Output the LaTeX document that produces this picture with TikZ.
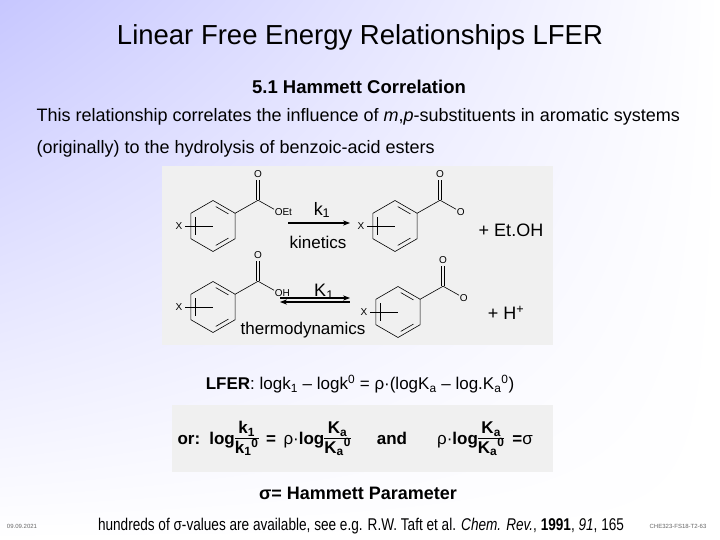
\documentclass[tikz,border=0pt]{standalone}
\usepackage{fontspec}
\setmainfont{Liberation Sans}
\newfontfamily\narrowf[FakeStretch=0.8]{Liberation Sans}
\usetikzlibrary{arrows.meta,calc,shadings}
\newcommand\fr[2]{\begin{tabular}{@{}c@{}}#1\rule[-3pt]{0pt}{3pt}\\[-1pt]\hline\rule{0pt}{15pt}#2\end{tabular}}
\tikzset{bond/.style={line width=0.6pt},
 atom/.style={font=\fontsize{10}{10}\selectfont,inner sep=0.5pt},
 pics/benz/.style={code={
  \draw[bond] (90:25.5)--(30:25.5)--(-30:25.5)--(-90:25.5)--(-150:25.5)--(150:25.5)--cycle;
  \draw[bond] ($(-150:25.5)!0.15!(150:25.5)+(4,0)$)--($(-150:25.5)!0.85!(150:25.5)+(4,0)$);
  \draw[bond] ($(-90:21)!0.15!(-30:21)$)--($(-90:21)!0.85!(-30:21)$);
  \draw[bond] ($(90:21)!0.15!(30:21)$)--($(90:21)!0.85!(30:21)$);
  \draw[bond] (-28,0)--(0,0);
  \node[atom] at (-34,0) {X};
  \draw[bond] (-30:25.5)--++(23,-13) coordinate(-c);
  \draw[bond] ($(-c)+(-1.5,0)$)--++(0,-20); \draw[bond] ($(-c)+(1.5,0)$)--++(0,-20);
  \node[atom] at ($(-c)+(0,-26)$) {O};
  \draw[bond] (-c)--++(16,9);
  \node[atom,anchor=west] at ($(-c)+(16,12)$) {#1};
 }}}
\begin{document}
\begin{tikzpicture}[x=1pt,y=-1pt]
\useasboundingbox (0,0) rectangle (720,540);
\shade[upper left=blue!22, upper right=white, lower left=white, lower right=white] (0,0) rectangle (720,540);
\node (title) at (360,37) {\fontsize{27.5}{28}\selectfont Linear Free Energy Relationships LFER};
\node (sub) at (359,87) {\fontsize{18.5}{19}\selectfont\bfseries 5.1 Hammett Correlation};
\node[anchor=west] (l1) at (33,117) {\fontsize{18}{18}\selectfont This relationship correlates the influence of \textit{m},\textit{p}-substituents in aromatic systems};
\node[anchor=west] (l2) at (33,149) {\fontsize{18}{18}\selectfont (originally) to the hydrolysis of benzoic-acid esters};
\fill[black!6] (162,166) rectangle (553,345);
\pic (r1) at (213,226) {benz=OEt};
\pic (r2) at (395,226) {benz=O};
\pic (r3) at (213,307) {benz=OH};
\pic (r4) at (398,312) {benz=O};
\coordinate (a1) at (288,223); \coordinate (a2) at (350,223);
\draw[line width=1.3pt,-{Stealth[length=7pt]}] (a1)--(a2);
\node (k1) at (322,210) {\fontsize{18}{18}\selectfont k\textsubscript{1}};
\node (kin) at (318,242) {\fontsize{17}{17}\selectfont kinetics};
\coordinate (b1) at (280,298); \coordinate (b2) at (350,298);
\coordinate (b3) at (280,302); \coordinate (b4) at (350,302);
\draw[line width=1.2pt,-{Stealth[length=7pt]}] (b1)--(b2);
\draw[line width=1.2pt,{Stealth[length=7pt]}-] (b3)--(b4);
\node (K1) at (324,292) {\fontsize{18}{18}\selectfont K\textsubscript{1}};
\node (thermo) at (303,330) {\fontsize{17}{17}\selectfont thermodynamics};
\node (etoh) at (511,230) {\fontsize{18}{18}\selectfont + Et.OH};
\node (hp) at (506,313) {\fontsize{18}{18}\selectfont + H\textsuperscript{+}};
\node (lfer) at (360,384) {\fontsize{17}{17}\selectfont\textbf{LFER}: logk\textsubscript{1} – logk\textsuperscript{0} = ρ·(logK\textsubscript{a} – log.K\textsubscript{a}\textsuperscript{0})};
\fill[black!6] (172,405) rectangle (553,472);
\node[anchor=west] (eq) at (174,440) {\fontsize{17}{17}\selectfont\bfseries or:\, log\fr{k\textsubscript{1}}{k\textsubscript{1}\textsuperscript{0}}\, =\, \mdseries ρ·\bfseries log\fr{K\textsubscript{a}}{K\textsubscript{a}\textsuperscript{0}}\hspace{26pt}and\hspace{30pt}\mdseries ρ·\bfseries log\fr{K\textsubscript{a}}{K\textsubscript{a}\textsuperscript{0}}\hspace{8pt}=\mdseries σ};
\node (hp2) at (358,493) {\fontsize{18}{18}\selectfont\bfseries σ= Hammett Parameter};
\node (date) at (22,526) {\fontsize{6}{6}\selectfont\color{black!60}09.09.2021};
\node (foot) at (361,526) {\narrowf\fontsize{17}{17}\selectfont hundreds of σ-values are available, see e.g. R.W. Taft et al. \textit{Chem. Rev.}, \textbf{1991}, \textit{91}, 165};
\node (code) at (678,526) {\fontsize{6}{6}\selectfont\color{black!60}CHE323-FS18-T2-63};
\end{tikzpicture}
\end{document}
